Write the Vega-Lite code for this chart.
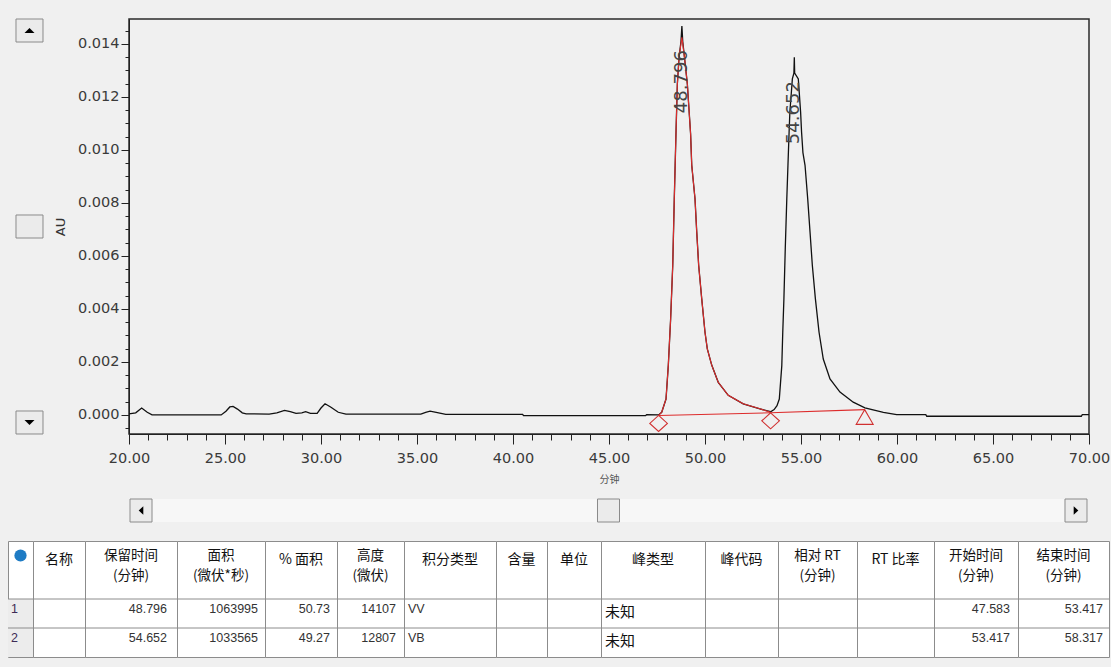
{
  "$schema": "https://vega.github.io/schema/vega-lite/v6.json",
  "background": "#f0f0f0",
  "padding": {"left": 7, "top": 17, "right": 1, "bottom": 9},
  "config": {
    "view": {"stroke": null},
    "axis": {"labelFont": "DejaVu Sans", "titleFont": "DejaVu Sans"},
    "text": {"font": "DejaVu Sans"}
  },
  "datasets": {
    "trace": [
      {"t": 20, "v": 0.00004}, {"t": 20.35, "v": 0.00008}, {"t": 20.66, "v": 0.00026}, {"t": 20.95, "v": 0.0001},
      {"t": 21.2, "v": 0}, {"t": 24.8, "v": 0}, {"t": 25.05, "v": 0.00014}, {"t": 25.25, "v": 0.0003},
      {"t": 25.42, "v": 0.00032}, {"t": 25.65, "v": 0.00022}, {"t": 25.9, "v": 0.00008}, {"t": 26.1, "v": 0.00004},
      {"t": 27.3, "v": 0.00003}, {"t": 27.7, "v": 0.00008}, {"t": 28.1, "v": 0.00017}, {"t": 28.4, "v": 0.00012},
      {"t": 28.7, "v": 0.00006}, {"t": 29, "v": 0.00008}, {"t": 29.2, "v": 0.00012}, {"t": 29.45, "v": 0.00006},
      {"t": 29.8, "v": 0.00006}, {"t": 30, "v": 0.00026}, {"t": 30.21, "v": 0.00042}, {"t": 30.5, "v": 0.0003},
      {"t": 30.9, "v": 0.0001}, {"t": 31.3, "v": 0.00003}, {"t": 35.2, "v": 0.00003}, {"t": 35.45, "v": 0.0001},
      {"t": 35.68, "v": 0.00014}, {"t": 36, "v": 0.0001}, {"t": 36.5, "v": 0.00002}, {"t": 40.5, "v": 0.00002},
      {"t": 40.55, "v": -0.00003}, {"t": 46.9, "v": -0.00003}, {"t": 46.96, "v": 0.00001}, {"t": 47.583, "v": 0},
      {"t": 47.745, "v": 0.0001}, {"t": 47.97, "v": 0.0006}, {"t": 48.09, "v": 0.00188}, {"t": 48.21, "v": 0.00362},
      {"t": 48.32, "v": 0.00565}, {"t": 48.4, "v": 0.00815}, {"t": 48.49, "v": 0.01067}, {"t": 48.56, "v": 0.01249},
      {"t": 48.65, "v": 0.0135}, {"t": 48.75, "v": 0.0141}, {"t": 48.796, "v": 0.01467}, {"t": 48.84, "v": 0.0141},
      {"t": 48.93, "v": 0.0135}, {"t": 49.08, "v": 0.01249}, {"t": 49.25, "v": 0.0106}, {"t": 49.31, "v": 0.00942},
      {"t": 49.48, "v": 0.00815}, {"t": 49.57, "v": 0.0069}, {"t": 49.67, "v": 0.00565}, {"t": 49.83, "v": 0.00438},
      {"t": 50, "v": 0.00312}, {"t": 50.12, "v": 0.00249}, {"t": 50.35, "v": 0.00188}, {"t": 50.69, "v": 0.00123},
      {"t": 51.21, "v": 0.00074}, {"t": 51.99, "v": 0.00042}, {"t": 52.86, "v": 0.00023}, {"t": 53.2, "v": 0.00016},
      {"t": 53.417, "v": 0.00012}, {"t": 53.6, "v": 0.0002}, {"t": 53.75, "v": 0.00035}, {"t": 53.87, "v": 0.0006},
      {"t": 54, "v": 0.00186}, {"t": 54.05, "v": 0.00312}, {"t": 54.11, "v": 0.00438}, {"t": 54.18, "v": 0.00626},
      {"t": 54.26, "v": 0.00815}, {"t": 54.32, "v": 0.00941}, {"t": 54.38, "v": 0.01067}, {"t": 54.42, "v": 0.01142},
      {"t": 54.55, "v": 0.01268}, {"t": 54.63, "v": 0.0129}, {"t": 54.652, "v": 0.0135}, {"t": 54.67, "v": 0.0129},
      {"t": 54.86, "v": 0.01268}, {"t": 54.98, "v": 0.01142}, {"t": 55.03, "v": 0.01067}, {"t": 55.1, "v": 0.0099},
      {"t": 55.21, "v": 0.00942}, {"t": 55.35, "v": 0.00815}, {"t": 55.47, "v": 0.0069}, {"t": 55.59, "v": 0.00565},
      {"t": 55.75, "v": 0.00438}, {"t": 55.94, "v": 0.00312}, {"t": 56.16, "v": 0.00211}, {"t": 56.51, "v": 0.00136},
      {"t": 57.03, "v": 0.00086}, {"t": 57.72, "v": 0.00048}, {"t": 58.33, "v": 0.00027}, {"t": 59.29, "v": 0.0001},
      {"t": 59.98, "v": 0.00001}, {"t": 61.5, "v": 0.00001}, {"t": 61.55, "v": -0.00005}, {"t": 69.6, "v": -0.00005},
      {"t": 69.65, "v": 0.00001}, {"t": 70, "v": 0.00001}
    ],
    "peak1": [
      {"t": 47.583, "v": -0.00002}, {"t": 47.745, "v": 0.0001}, {"t": 47.97, "v": 0.0006}, {"t": 48.09, "v": 0.00188},
      {"t": 48.21, "v": 0.00362}, {"t": 48.32, "v": 0.00565}, {"t": 48.4, "v": 0.00815}, {"t": 48.49, "v": 0.01067},
      {"t": 48.56, "v": 0.01249}, {"t": 48.65, "v": 0.0135}, {"t": 48.796, "v": 0.01425}, {"t": 48.93, "v": 0.0135},
      {"t": 49.08, "v": 0.01249}, {"t": 49.25, "v": 0.0106}, {"t": 49.31, "v": 0.00942}, {"t": 49.48, "v": 0.00815},
      {"t": 49.57, "v": 0.0069}, {"t": 49.67, "v": 0.00565}, {"t": 49.83, "v": 0.00438}, {"t": 50, "v": 0.00312},
      {"t": 50.12, "v": 0.00249}, {"t": 50.35, "v": 0.00188}, {"t": 50.69, "v": 0.00123}, {"t": 51.21, "v": 0.00074},
      {"t": 51.99, "v": 0.00042}, {"t": 52.86, "v": 0.00023}, {"t": 53.2, "v": 0.00015}, {"t": 53.417, "v": 0.0001}
    ],
    "baseline": [
      {"t": 47.583, "v": -0.00002, "peak": 1}, {"t": 53.417, "v": 0.00008, "peak": 1},
      {"t": 53.417, "v": 0.00008, "peak": 2}, {"t": 58.317, "v": 0.0002, "peak": 2}
    ],
    "limits": [
      {"t": 47.583, "v": -0.00002, "kind": "V"},
      {"t": 53.417, "v": 0.00008, "kind": "V"},
      {"t": 58.317, "v": 0.0002, "kind": "B"}
    ],
    "apex": [
      {"t": 48.796, "v": 0.01467},
      {"t": 54.652, "v": 0.0135}
    ],
    "vbar": [{"part": "up"}, {"part": "thumb"}, {"part": "down"}],
    "hbar": [{"part": "left"}, {"part": "thumb"}, {"part": "right"}],
    "cells": [
      {"c": 0, "s": "h", "text": ""}, {"c": 0, "s": "r1", "text": "1"}, {"c": 0, "s": "r2", "text": "2"},
      {"c": 1, "s": "h", "text": "名称"}, {"c": 1, "s": "r1", "text": ""}, {"c": 1, "s": "r2", "text": ""},
      {"c": 2, "s": "h", "text": "保留时间"}, {"c": 2, "s": "h2", "text": "(分钟)"}, {"c": 2, "s": "r1", "text": "48.796"}, {"c": 2, "s": "r2", "text": "54.652"},
      {"c": 3, "s": "h", "text": "面积"}, {"c": 3, "s": "h2", "text": "(微伏*秒)"}, {"c": 3, "s": "r1", "text": "1063995"}, {"c": 3, "s": "r2", "text": "1033565"},
      {"c": 4, "s": "h", "text": "% 面积"}, {"c": 4, "s": "r1", "text": "50.73"}, {"c": 4, "s": "r2", "text": "49.27"},
      {"c": 5, "s": "h", "text": "高度"}, {"c": 5, "s": "h2", "text": "(微伏)"}, {"c": 5, "s": "r1", "text": "14107"}, {"c": 5, "s": "r2", "text": "12807"},
      {"c": 6, "s": "h", "text": "积分类型"}, {"c": 6, "s": "r1", "text": "VV"}, {"c": 6, "s": "r2", "text": "VB"},
      {"c": 7, "s": "h", "text": "含量"}, {"c": 7, "s": "r1", "text": ""}, {"c": 7, "s": "r2", "text": ""},
      {"c": 8, "s": "h", "text": "单位"}, {"c": 8, "s": "r1", "text": ""}, {"c": 8, "s": "r2", "text": ""},
      {"c": 9, "s": "h", "text": "峰类型"}, {"c": 9, "s": "r1", "text": "未知"}, {"c": 9, "s": "r2", "text": "未知"},
      {"c": 10, "s": "h", "text": "峰代码"}, {"c": 10, "s": "r1", "text": ""}, {"c": 10, "s": "r2", "text": ""},
      {"c": 11, "s": "h", "text": "相对 RT"}, {"c": 11, "s": "h2", "text": "(分钟)"}, {"c": 11, "s": "r1", "text": ""}, {"c": 11, "s": "r2", "text": ""},
      {"c": 12, "s": "h", "text": "RT 比率"}, {"c": 12, "s": "r1", "text": ""}, {"c": 12, "s": "r2", "text": ""},
      {"c": 13, "s": "h", "text": "开始时间"}, {"c": 13, "s": "h2", "text": "(分钟)"}, {"c": 13, "s": "r1", "text": "47.583"}, {"c": 13, "s": "r2", "text": "53.417"},
      {"c": 14, "s": "h", "text": "结束时间"}, {"c": 14, "s": "h2", "text": "(分钟)"}, {"c": 14, "s": "r1", "text": "53.417"}, {"c": 14, "s": "r2", "text": "58.317"}
    ]
  },
  "spacing": 16,
  "vconcat": [
    {
      "spacing": 8,
      "hconcat": [
        {
          "width": 35,
          "height": 415,
          "data": {"name": "vbar"},
          "encoding": {"y": {"field": "part", "type": "nominal", "axis": null, "scale": {"type": "point", "domain": ["up", "thumb", "down"], "padding": 0.0587}}},
          "layer": [
            {"mark": {"type": "point", "shape": "M-0.704,-0.852H1.296V0.852H-0.704Z", "size": 729, "filled": true, "fill": "#ebebeb", "stroke": "#8a8a8a", "strokeWidth": 1, "opacity": 1}},
            {"transform": [{"filter": "datum.part === 'up'"}], "mark": {"type": "point", "shape": "M0.296,-0.19L0.666,0.19L-0.074,0.19Z", "size": 729, "filled": true, "color": "#000000", "opacity": 1}},
            {"transform": [{"filter": "datum.part === 'down'"}], "mark": {"type": "point", "shape": "M-0.074,-0.19L0.666,-0.19L0.296,0.19Z", "size": 729, "filled": true, "color": "#000000", "opacity": 1}}
          ]
        },
        {
          "spacing": 65,
          "bounds": "flush",
          "vconcat": [
            {
              "width": 960,
              "height": 415,
              "view": {"stroke": "#2a2a2a", "strokeWidth": 1.5},
              "encoding": {
                "x": {
                  "field": "t", "type": "quantitative",
                  "scale": {"domain": [20, 70], "nice": false, "zero": false},
                  "axis": {
                    "title": "分钟", "titleFont": "Noto Sans CJK SC", "titleFontSize": 10, "titleFontWeight": "normal", "titleColor": "#555555", "titlePadding": 10,
                    "values": [20, 21, 22, 23, 24, 25, 26, 27, 28, 29, 30, 31, 32, 33, 34, 35, 36, 37, 38, 39, 40, 41, 42, 43, 44, 45, 46, 47, 48, 49, 50, 51, 52, 53, 54, 55, 56, 57, 58, 59, 60, 61, 62, 63, 64, 65, 66, 67, 68, 69, 70],
                    "labelExpr": "datum.value % 5 === 0 ? format(datum.value, '.2f') : ''",
                    "tickSize": {"condition": {"test": "datum.value % 5 === 0", "value": 10}, "value": 6},
                    "labelPadding": 7, "labelFontSize": 14.5, "labelColor": "#3a3a3a", "labelOverlap": false, "labelFlush": false, "labelBound": false,
                    "tickColor": "#222222", "domainColor": "#222222", "grid": false, "minExtent": 30, "maxExtent": 30
                  }
                },
                "y": {
                  "field": "v", "type": "quantitative",
                  "scale": {"domain": [-0.00072, 0.01494], "nice": false, "zero": false},
                  "axis": {
                    "title": "AU", "titleFontSize": 13, "titleFontWeight": "normal", "titleColor": "#333333", "titlePadding": 10,
                    "values": [-0.0005, 0, 0.0005, 0.001, 0.0015, 0.002, 0.0025, 0.003, 0.0035, 0.004, 0.0045, 0.005, 0.0055, 0.006, 0.0065, 0.007, 0.0075, 0.008, 0.0085, 0.009, 0.0095, 0.01, 0.0105, 0.011, 0.0115, 0.012, 0.0125, 0.013, 0.0135, 0.014, 0.0145],
                    "labelExpr": "abs(datum.value * 500 - round(datum.value * 500)) < 0.01 ? format(datum.value, '.3f') : ''",
                    "tickSize": {"condition": {"test": "abs(datum.value * 500 - round(datum.value * 500)) < 0.01", "value": 8}, "value": 4},
                    "labelPadding": 2, "labelFontSize": 14.5, "labelColor": "#3a3a3a", "labelOverlap": false,
                    "tickColor": "#222222", "domainColor": "#222222", "grid": false, "minExtent": 52, "maxExtent": 52
                  }
                }
              },
              "layer": [
                {"data": {"name": "trace"}, "mark": {"type": "line", "color": "#111111", "strokeWidth": 1.3}},
                {"data": {"name": "baseline"}, "mark": {"type": "line", "color": "#dd2c2c", "strokeWidth": 1.1}, "encoding": {"detail": {"field": "peak"}}},
                {"data": {"name": "peak1"}, "mark": {"type": "line", "color": "#dd2c2c", "strokeWidth": 1.1}},
                {"data": {"name": "limits"}, "transform": [{"filter": "datum.kind === 'V'"}], "mark": {"type": "point", "shape": "M0,0L1.1,1L0,2L-1.1,1Z", "size": 256, "filled": false, "stroke": "#d03030", "strokeWidth": 1.1, "opacity": 1}},
                {"data": {"name": "limits"}, "transform": [{"filter": "datum.kind === 'B'"}], "mark": {"type": "point", "shape": "M0,0L1.06,1.84L-1.06,1.84Z", "size": 256, "filled": false, "stroke": "#d03030", "strokeWidth": 1.1, "opacity": 1}},
                {"data": {"name": "apex"}, "mark": {"type": "text", "angle": 270, "align": "right", "baseline": "middle", "dx": -24, "fontSize": 18, "color": "#444444"}, "encoding": {"text": {"field": "t", "type": "quantitative", "format": ".3f"}}}
              ]
            },
            {
              "width": 959,
              "height": 23,
              "view": {"fill": "#f7f7f7"},
              "data": {"name": "hbar"},
              "encoding": {"x": {"field": "part", "type": "nominal", "axis": null, "scale": {"type": "point", "domain": ["left", "thumb", "right"], "padding": 0.02567}}},
              "layer": [
                {"mark": {"type": "point", "shape": "M-0.957,-1H0.957V1H-0.957Z", "size": 529, "filled": true, "fill": "#ebebeb", "stroke": "#8a8a8a", "strokeWidth": 1, "opacity": 1}},
                {"transform": [{"filter": "datum.part === 'left'"}], "mark": {"type": "point", "shape": "M-0.2,0L0.2,-0.38L0.2,0.38Z", "size": 529, "filled": true, "color": "#000000", "opacity": 1}},
                {"transform": [{"filter": "datum.part === 'right'"}], "mark": {"type": "point", "shape": "M0.2,0L-0.2,-0.38L-0.2,0.38Z", "size": 529, "filled": true, "color": "#000000", "opacity": 1}}
              ]
            }
          ]
        }
      ]
    },
    {
      "spacing": 0,
      "bounds": "flush",
      "resolve": {"scale": {"x": "independent", "y": "independent"}},
      "hconcat": [
        {
          "width": 25, "height": 116, "view": {"fill": "#ffffff", "stroke": "#8c8c8c"},
          "data": {"name": "cells"}, "transform": [{"filter": "datum.c === 0"}],
          "layer": [
            {"transform": [{"filter": "datum.s === 'r1' || datum.s === 'r2'"}], "mark": {"type": "rect", "color": "#ececec"}, "encoding": {"y": {"field": "s", "type": "ordinal", "axis": null, "scale": {"type": "band", "domain": ["h", "h2", "r1", "r2"], "paddingInner": 0, "paddingOuter": 0}}}},
            {"transform": [{"filter": "datum.s === 'r1' || datum.s === 'r2'"}], "mark": {"type": "rule", "color": "#8c8c8c"}, "encoding": {"y": {"field": "s", "type": "ordinal", "axis": null, "bandPosition": 0, "scale": {"type": "band", "domain": ["h", "h2", "r1", "r2"], "paddingInner": 0, "paddingOuter": 0}}}},
            {"transform": [{"filter": "datum.s === 'h'"}], "mark": {"type": "point", "shape": "circle", "filled": true, "size": 150, "color": "#1e7bc4", "opacity": 1}, "encoding": {"y": {"field": "s", "type": "ordinal", "axis": null, "bandPosition": 0.5, "scale": {"type": "band", "domain": ["h", "h2", "r1", "r2"], "paddingInner": 0, "paddingOuter": 0}}}},
            {"transform": [{"filter": "datum.s === 'r1' || datum.s === 'r2'"}], "mark": {"type": "text", "align": "left", "baseline": "middle", "dx": 3, "font": "Liberation Sans", "fontSize": 12.5, "color": "#3d2b56"}, "encoding": {"x": {"field": "c", "type": "ordinal", "axis": null, "bandPosition": 0, "scale": {"type": "band", "paddingInner": 0, "paddingOuter": 0}}, "y": {"field": "s", "type": "ordinal", "axis": null, "bandPosition": 0.36, "scale": {"type": "band", "domain": ["h", "h2", "r1", "r2"], "paddingInner": 0, "paddingOuter": 0}}, "text": {"field": "text"}}}
          ]
        },
        {
          "width": 52, "height": 116, "view": {"fill": "#ffffff", "stroke": "#8c8c8c"},
          "data": {"name": "cells"}, "transform": [{"filter": "datum.c === 1"}],
          "layer": [
            {"transform": [{"filter": "datum.s === 'r1' || datum.s === 'r2'"}], "mark": {"type": "rule", "color": "#8c8c8c"}, "encoding": {"y": {"field": "s", "type": "ordinal", "axis": null, "bandPosition": 0, "scale": {"type": "band", "domain": ["h", "h2", "r1", "r2"], "paddingInner": 0, "paddingOuter": 0}}}},
            {"transform": [{"filter": "datum.s === 'h'"}], "mark": {"type": "text", "font": "Noto Sans CJK SC", "fontSize": 14, "baseline": "middle", "color": "#111111"}, "encoding": {"x": {"field": "c", "type": "ordinal", "axis": null, "scale": {"type": "band", "paddingInner": 0, "paddingOuter": 0}}, "y": {"field": "s", "type": "ordinal", "axis": null, "bandPosition": 0.64, "scale": {"type": "band", "domain": ["h", "h2", "r1", "r2"], "paddingInner": 0, "paddingOuter": 0}}, "text": {"field": "text"}}}
          ]
        },
        {
          "width": 92, "height": 116, "view": {"fill": "#ffffff", "stroke": "#8c8c8c"},
          "data": {"name": "cells"}, "transform": [{"filter": "datum.c === 2"}],
          "layer": [
            {"transform": [{"filter": "datum.s === 'r1' || datum.s === 'r2'"}], "mark": {"type": "rule", "color": "#8c8c8c"}, "encoding": {"y": {"field": "s", "type": "ordinal", "axis": null, "bandPosition": 0, "scale": {"type": "band", "domain": ["h", "h2", "r1", "r2"], "paddingInner": 0, "paddingOuter": 0}}}},
            {"transform": [{"filter": "datum.s === 'h'"}], "mark": {"type": "text", "font": "Noto Sans CJK SC", "fontSize": 13.5, "baseline": "middle", "color": "#111111"}, "encoding": {"x": {"field": "c", "type": "ordinal", "axis": null, "scale": {"type": "band", "paddingInner": 0, "paddingOuter": 0}}, "y": {"field": "s", "type": "ordinal", "axis": null, "bandPosition": 0.5, "scale": {"type": "band", "domain": ["h", "h2", "r1", "r2"], "paddingInner": 0, "paddingOuter": 0}}, "text": {"field": "text"}}},
            {"transform": [{"filter": "datum.s === 'h2'"}], "mark": {"type": "text", "font": "Noto Sans CJK SC", "fontSize": 13.5, "baseline": "middle", "color": "#111111"}, "encoding": {"x": {"field": "c", "type": "ordinal", "axis": null, "scale": {"type": "band", "paddingInner": 0, "paddingOuter": 0}}, "y": {"field": "s", "type": "ordinal", "axis": null, "bandPosition": 0.2, "scale": {"type": "band", "domain": ["h", "h2", "r1", "r2"], "paddingInner": 0, "paddingOuter": 0}}, "text": {"field": "text"}}},
            {"transform": [{"filter": "datum.s === 'r1' || datum.s === 'r2'"}], "mark": {"type": "text", "align": "right", "baseline": "middle", "dx": -10, "font": "Liberation Sans", "fontSize": 12.5, "color": "#333333"}, "encoding": {"x": {"field": "c", "type": "ordinal", "axis": null, "bandPosition": 1, "scale": {"type": "band", "paddingInner": 0, "paddingOuter": 0}}, "y": {"field": "s", "type": "ordinal", "axis": null, "bandPosition": 0.36, "scale": {"type": "band", "domain": ["h", "h2", "r1", "r2"], "paddingInner": 0, "paddingOuter": 0}}, "text": {"field": "text"}}}
          ]
        },
        {
          "width": 88, "height": 116, "view": {"fill": "#ffffff", "stroke": "#8c8c8c"},
          "data": {"name": "cells"}, "transform": [{"filter": "datum.c === 3"}],
          "layer": [
            {"transform": [{"filter": "datum.s === 'r1' || datum.s === 'r2'"}], "mark": {"type": "rule", "color": "#8c8c8c"}, "encoding": {"y": {"field": "s", "type": "ordinal", "axis": null, "bandPosition": 0, "scale": {"type": "band", "domain": ["h", "h2", "r1", "r2"], "paddingInner": 0, "paddingOuter": 0}}}},
            {"transform": [{"filter": "datum.s === 'h'"}], "mark": {"type": "text", "font": "Noto Sans CJK SC", "fontSize": 13.5, "baseline": "middle", "color": "#111111"}, "encoding": {"x": {"field": "c", "type": "ordinal", "axis": null, "scale": {"type": "band", "paddingInner": 0, "paddingOuter": 0}}, "y": {"field": "s", "type": "ordinal", "axis": null, "bandPosition": 0.5, "scale": {"type": "band", "domain": ["h", "h2", "r1", "r2"], "paddingInner": 0, "paddingOuter": 0}}, "text": {"field": "text"}}},
            {"transform": [{"filter": "datum.s === 'h2'"}], "mark": {"type": "text", "font": "Noto Sans CJK SC", "fontSize": 13.5, "baseline": "middle", "color": "#111111"}, "encoding": {"x": {"field": "c", "type": "ordinal", "axis": null, "scale": {"type": "band", "paddingInner": 0, "paddingOuter": 0}}, "y": {"field": "s", "type": "ordinal", "axis": null, "bandPosition": 0.2, "scale": {"type": "band", "domain": ["h", "h2", "r1", "r2"], "paddingInner": 0, "paddingOuter": 0}}, "text": {"field": "text"}}},
            {"transform": [{"filter": "datum.s === 'r1' || datum.s === 'r2'"}], "mark": {"type": "text", "align": "right", "baseline": "middle", "dx": -7, "font": "Liberation Sans", "fontSize": 12.5, "color": "#333333"}, "encoding": {"x": {"field": "c", "type": "ordinal", "axis": null, "bandPosition": 1, "scale": {"type": "band", "paddingInner": 0, "paddingOuter": 0}}, "y": {"field": "s", "type": "ordinal", "axis": null, "bandPosition": 0.36, "scale": {"type": "band", "domain": ["h", "h2", "r1", "r2"], "paddingInner": 0, "paddingOuter": 0}}, "text": {"field": "text"}}}
          ]
        },
        {
          "width": 72, "height": 116, "view": {"fill": "#ffffff", "stroke": "#8c8c8c"},
          "data": {"name": "cells"}, "transform": [{"filter": "datum.c === 4"}],
          "layer": [
            {"transform": [{"filter": "datum.s === 'r1' || datum.s === 'r2'"}], "mark": {"type": "rule", "color": "#8c8c8c"}, "encoding": {"y": {"field": "s", "type": "ordinal", "axis": null, "bandPosition": 0, "scale": {"type": "band", "domain": ["h", "h2", "r1", "r2"], "paddingInner": 0, "paddingOuter": 0}}}},
            {"transform": [{"filter": "datum.s === 'h'"}], "mark": {"type": "text", "font": "Noto Sans CJK SC", "fontSize": 14, "baseline": "middle", "color": "#111111"}, "encoding": {"x": {"field": "c", "type": "ordinal", "axis": null, "scale": {"type": "band", "paddingInner": 0, "paddingOuter": 0}}, "y": {"field": "s", "type": "ordinal", "axis": null, "bandPosition": 0.64, "scale": {"type": "band", "domain": ["h", "h2", "r1", "r2"], "paddingInner": 0, "paddingOuter": 0}}, "text": {"field": "text"}}},
            {"transform": [{"filter": "datum.s === 'r1' || datum.s === 'r2'"}], "mark": {"type": "text", "align": "right", "baseline": "middle", "dx": -7, "font": "Liberation Sans", "fontSize": 12.5, "color": "#333333"}, "encoding": {"x": {"field": "c", "type": "ordinal", "axis": null, "bandPosition": 1, "scale": {"type": "band", "paddingInner": 0, "paddingOuter": 0}}, "y": {"field": "s", "type": "ordinal", "axis": null, "bandPosition": 0.36, "scale": {"type": "band", "domain": ["h", "h2", "r1", "r2"], "paddingInner": 0, "paddingOuter": 0}}, "text": {"field": "text"}}}
          ]
        },
        {
          "width": 67, "height": 116, "view": {"fill": "#ffffff", "stroke": "#8c8c8c"},
          "data": {"name": "cells"}, "transform": [{"filter": "datum.c === 5"}],
          "layer": [
            {"transform": [{"filter": "datum.s === 'r1' || datum.s === 'r2'"}], "mark": {"type": "rule", "color": "#8c8c8c"}, "encoding": {"y": {"field": "s", "type": "ordinal", "axis": null, "bandPosition": 0, "scale": {"type": "band", "domain": ["h", "h2", "r1", "r2"], "paddingInner": 0, "paddingOuter": 0}}}},
            {"transform": [{"filter": "datum.s === 'h'"}], "mark": {"type": "text", "font": "Noto Sans CJK SC", "fontSize": 13.5, "baseline": "middle", "color": "#111111"}, "encoding": {"x": {"field": "c", "type": "ordinal", "axis": null, "scale": {"type": "band", "paddingInner": 0, "paddingOuter": 0}}, "y": {"field": "s", "type": "ordinal", "axis": null, "bandPosition": 0.5, "scale": {"type": "band", "domain": ["h", "h2", "r1", "r2"], "paddingInner": 0, "paddingOuter": 0}}, "text": {"field": "text"}}},
            {"transform": [{"filter": "datum.s === 'h2'"}], "mark": {"type": "text", "font": "Noto Sans CJK SC", "fontSize": 13.5, "baseline": "middle", "color": "#111111"}, "encoding": {"x": {"field": "c", "type": "ordinal", "axis": null, "scale": {"type": "band", "paddingInner": 0, "paddingOuter": 0}}, "y": {"field": "s", "type": "ordinal", "axis": null, "bandPosition": 0.2, "scale": {"type": "band", "domain": ["h", "h2", "r1", "r2"], "paddingInner": 0, "paddingOuter": 0}}, "text": {"field": "text"}}},
            {"transform": [{"filter": "datum.s === 'r1' || datum.s === 'r2'"}], "mark": {"type": "text", "align": "right", "baseline": "middle", "dx": -8, "font": "Liberation Sans", "fontSize": 12.5, "color": "#333333"}, "encoding": {"x": {"field": "c", "type": "ordinal", "axis": null, "bandPosition": 1, "scale": {"type": "band", "paddingInner": 0, "paddingOuter": 0}}, "y": {"field": "s", "type": "ordinal", "axis": null, "bandPosition": 0.36, "scale": {"type": "band", "domain": ["h", "h2", "r1", "r2"], "paddingInner": 0, "paddingOuter": 0}}, "text": {"field": "text"}}}
          ]
        },
        {
          "width": 92, "height": 116, "view": {"fill": "#ffffff", "stroke": "#8c8c8c"},
          "data": {"name": "cells"}, "transform": [{"filter": "datum.c === 6"}],
          "layer": [
            {"transform": [{"filter": "datum.s === 'r1' || datum.s === 'r2'"}], "mark": {"type": "rule", "color": "#8c8c8c"}, "encoding": {"y": {"field": "s", "type": "ordinal", "axis": null, "bandPosition": 0, "scale": {"type": "band", "domain": ["h", "h2", "r1", "r2"], "paddingInner": 0, "paddingOuter": 0}}}},
            {"transform": [{"filter": "datum.s === 'h'"}], "mark": {"type": "text", "font": "Noto Sans CJK SC", "fontSize": 14, "baseline": "middle", "color": "#111111"}, "encoding": {"x": {"field": "c", "type": "ordinal", "axis": null, "scale": {"type": "band", "paddingInner": 0, "paddingOuter": 0}}, "y": {"field": "s", "type": "ordinal", "axis": null, "bandPosition": 0.64, "scale": {"type": "band", "domain": ["h", "h2", "r1", "r2"], "paddingInner": 0, "paddingOuter": 0}}, "text": {"field": "text"}}},
            {"transform": [{"filter": "datum.s === 'r1' || datum.s === 'r2'"}], "mark": {"type": "text", "align": "left", "baseline": "middle", "dx": 4, "font": "Liberation Sans", "fontSize": 12.5, "color": "#333333"}, "encoding": {"x": {"field": "c", "type": "ordinal", "axis": null, "bandPosition": 0, "scale": {"type": "band", "paddingInner": 0, "paddingOuter": 0}}, "y": {"field": "s", "type": "ordinal", "axis": null, "bandPosition": 0.36, "scale": {"type": "band", "domain": ["h", "h2", "r1", "r2"], "paddingInner": 0, "paddingOuter": 0}}, "text": {"field": "text"}}}
          ]
        },
        {
          "width": 51, "height": 116, "view": {"fill": "#ffffff", "stroke": "#8c8c8c"},
          "data": {"name": "cells"}, "transform": [{"filter": "datum.c === 7"}],
          "layer": [
            {"transform": [{"filter": "datum.s === 'r1' || datum.s === 'r2'"}], "mark": {"type": "rule", "color": "#8c8c8c"}, "encoding": {"y": {"field": "s", "type": "ordinal", "axis": null, "bandPosition": 0, "scale": {"type": "band", "domain": ["h", "h2", "r1", "r2"], "paddingInner": 0, "paddingOuter": 0}}}},
            {"transform": [{"filter": "datum.s === 'h'"}], "mark": {"type": "text", "font": "Noto Sans CJK SC", "fontSize": 14, "baseline": "middle", "color": "#111111"}, "encoding": {"x": {"field": "c", "type": "ordinal", "axis": null, "scale": {"type": "band", "paddingInner": 0, "paddingOuter": 0}}, "y": {"field": "s", "type": "ordinal", "axis": null, "bandPosition": 0.64, "scale": {"type": "band", "domain": ["h", "h2", "r1", "r2"], "paddingInner": 0, "paddingOuter": 0}}, "text": {"field": "text"}}}
          ]
        },
        {
          "width": 54, "height": 116, "view": {"fill": "#ffffff", "stroke": "#8c8c8c"},
          "data": {"name": "cells"}, "transform": [{"filter": "datum.c === 8"}],
          "layer": [
            {"transform": [{"filter": "datum.s === 'r1' || datum.s === 'r2'"}], "mark": {"type": "rule", "color": "#8c8c8c"}, "encoding": {"y": {"field": "s", "type": "ordinal", "axis": null, "bandPosition": 0, "scale": {"type": "band", "domain": ["h", "h2", "r1", "r2"], "paddingInner": 0, "paddingOuter": 0}}}},
            {"transform": [{"filter": "datum.s === 'h'"}], "mark": {"type": "text", "font": "Noto Sans CJK SC", "fontSize": 14, "baseline": "middle", "color": "#111111"}, "encoding": {"x": {"field": "c", "type": "ordinal", "axis": null, "scale": {"type": "band", "paddingInner": 0, "paddingOuter": 0}}, "y": {"field": "s", "type": "ordinal", "axis": null, "bandPosition": 0.64, "scale": {"type": "band", "domain": ["h", "h2", "r1", "r2"], "paddingInner": 0, "paddingOuter": 0}}, "text": {"field": "text"}}}
          ]
        },
        {
          "width": 104, "height": 116, "view": {"fill": "#ffffff", "stroke": "#8c8c8c"},
          "data": {"name": "cells"}, "transform": [{"filter": "datum.c === 9"}],
          "layer": [
            {"transform": [{"filter": "datum.s === 'r1' || datum.s === 'r2'"}], "mark": {"type": "rule", "color": "#8c8c8c"}, "encoding": {"y": {"field": "s", "type": "ordinal", "axis": null, "bandPosition": 0, "scale": {"type": "band", "domain": ["h", "h2", "r1", "r2"], "paddingInner": 0, "paddingOuter": 0}}}},
            {"transform": [{"filter": "datum.s === 'h'"}], "mark": {"type": "text", "font": "Noto Sans CJK SC", "fontSize": 14, "baseline": "middle", "color": "#111111"}, "encoding": {"x": {"field": "c", "type": "ordinal", "axis": null, "scale": {"type": "band", "paddingInner": 0, "paddingOuter": 0}}, "y": {"field": "s", "type": "ordinal", "axis": null, "bandPosition": 0.64, "scale": {"type": "band", "domain": ["h", "h2", "r1", "r2"], "paddingInner": 0, "paddingOuter": 0}}, "text": {"field": "text"}}},
            {"transform": [{"filter": "datum.s === 'r1' || datum.s === 'r2'"}], "mark": {"type": "text", "align": "left", "baseline": "middle", "dx": 4, "font": "Noto Sans CJK SC", "fontSize": 15, "color": "#111111"}, "encoding": {"x": {"field": "c", "type": "ordinal", "axis": null, "bandPosition": 0, "scale": {"type": "band", "paddingInner": 0, "paddingOuter": 0}}, "y": {"field": "s", "type": "ordinal", "axis": null, "bandPosition": 0.45, "scale": {"type": "band", "domain": ["h", "h2", "r1", "r2"], "paddingInner": 0, "paddingOuter": 0}}, "text": {"field": "text"}}}
          ]
        },
        {
          "width": 73, "height": 116, "view": {"fill": "#ffffff", "stroke": "#8c8c8c"},
          "data": {"name": "cells"}, "transform": [{"filter": "datum.c === 10"}],
          "layer": [
            {"transform": [{"filter": "datum.s === 'r1' || datum.s === 'r2'"}], "mark": {"type": "rule", "color": "#8c8c8c"}, "encoding": {"y": {"field": "s", "type": "ordinal", "axis": null, "bandPosition": 0, "scale": {"type": "band", "domain": ["h", "h2", "r1", "r2"], "paddingInner": 0, "paddingOuter": 0}}}},
            {"transform": [{"filter": "datum.s === 'h'"}], "mark": {"type": "text", "font": "Noto Sans CJK SC", "fontSize": 14, "baseline": "middle", "color": "#111111"}, "encoding": {"x": {"field": "c", "type": "ordinal", "axis": null, "scale": {"type": "band", "paddingInner": 0, "paddingOuter": 0}}, "y": {"field": "s", "type": "ordinal", "axis": null, "bandPosition": 0.64, "scale": {"type": "band", "domain": ["h", "h2", "r1", "r2"], "paddingInner": 0, "paddingOuter": 0}}, "text": {"field": "text"}}}
          ]
        },
        {
          "width": 79, "height": 116, "view": {"fill": "#ffffff", "stroke": "#8c8c8c"},
          "data": {"name": "cells"}, "transform": [{"filter": "datum.c === 11"}],
          "layer": [
            {"transform": [{"filter": "datum.s === 'r1' || datum.s === 'r2'"}], "mark": {"type": "rule", "color": "#8c8c8c"}, "encoding": {"y": {"field": "s", "type": "ordinal", "axis": null, "bandPosition": 0, "scale": {"type": "band", "domain": ["h", "h2", "r1", "r2"], "paddingInner": 0, "paddingOuter": 0}}}},
            {"transform": [{"filter": "datum.s === 'h'"}], "mark": {"type": "text", "font": "Noto Sans CJK SC", "fontSize": 13.5, "baseline": "middle", "color": "#111111"}, "encoding": {"x": {"field": "c", "type": "ordinal", "axis": null, "scale": {"type": "band", "paddingInner": 0, "paddingOuter": 0}}, "y": {"field": "s", "type": "ordinal", "axis": null, "bandPosition": 0.5, "scale": {"type": "band", "domain": ["h", "h2", "r1", "r2"], "paddingInner": 0, "paddingOuter": 0}}, "text": {"field": "text"}}},
            {"transform": [{"filter": "datum.s === 'h2'"}], "mark": {"type": "text", "font": "Noto Sans CJK SC", "fontSize": 13.5, "baseline": "middle", "color": "#111111"}, "encoding": {"x": {"field": "c", "type": "ordinal", "axis": null, "scale": {"type": "band", "paddingInner": 0, "paddingOuter": 0}}, "y": {"field": "s", "type": "ordinal", "axis": null, "bandPosition": 0.2, "scale": {"type": "band", "domain": ["h", "h2", "r1", "r2"], "paddingInner": 0, "paddingOuter": 0}}, "text": {"field": "text"}}}
          ]
        },
        {
          "width": 77, "height": 116, "view": {"fill": "#ffffff", "stroke": "#8c8c8c"},
          "data": {"name": "cells"}, "transform": [{"filter": "datum.c === 12"}],
          "layer": [
            {"transform": [{"filter": "datum.s === 'r1' || datum.s === 'r2'"}], "mark": {"type": "rule", "color": "#8c8c8c"}, "encoding": {"y": {"field": "s", "type": "ordinal", "axis": null, "bandPosition": 0, "scale": {"type": "band", "domain": ["h", "h2", "r1", "r2"], "paddingInner": 0, "paddingOuter": 0}}}},
            {"transform": [{"filter": "datum.s === 'h'"}], "mark": {"type": "text", "font": "Noto Sans CJK SC", "fontSize": 14, "baseline": "middle", "color": "#111111"}, "encoding": {"x": {"field": "c", "type": "ordinal", "axis": null, "scale": {"type": "band", "paddingInner": 0, "paddingOuter": 0}}, "y": {"field": "s", "type": "ordinal", "axis": null, "bandPosition": 0.64, "scale": {"type": "band", "domain": ["h", "h2", "r1", "r2"], "paddingInner": 0, "paddingOuter": 0}}, "text": {"field": "text"}}}
          ]
        },
        {
          "width": 84, "height": 116, "view": {"fill": "#ffffff", "stroke": "#8c8c8c"},
          "data": {"name": "cells"}, "transform": [{"filter": "datum.c === 13"}],
          "layer": [
            {"transform": [{"filter": "datum.s === 'r1' || datum.s === 'r2'"}], "mark": {"type": "rule", "color": "#8c8c8c"}, "encoding": {"y": {"field": "s", "type": "ordinal", "axis": null, "bandPosition": 0, "scale": {"type": "band", "domain": ["h", "h2", "r1", "r2"], "paddingInner": 0, "paddingOuter": 0}}}},
            {"transform": [{"filter": "datum.s === 'h'"}], "mark": {"type": "text", "font": "Noto Sans CJK SC", "fontSize": 13.5, "baseline": "middle", "color": "#111111"}, "encoding": {"x": {"field": "c", "type": "ordinal", "axis": null, "scale": {"type": "band", "paddingInner": 0, "paddingOuter": 0}}, "y": {"field": "s", "type": "ordinal", "axis": null, "bandPosition": 0.5, "scale": {"type": "band", "domain": ["h", "h2", "r1", "r2"], "paddingInner": 0, "paddingOuter": 0}}, "text": {"field": "text"}}},
            {"transform": [{"filter": "datum.s === 'h2'"}], "mark": {"type": "text", "font": "Noto Sans CJK SC", "fontSize": 13.5, "baseline": "middle", "color": "#111111"}, "encoding": {"x": {"field": "c", "type": "ordinal", "axis": null, "scale": {"type": "band", "paddingInner": 0, "paddingOuter": 0}}, "y": {"field": "s", "type": "ordinal", "axis": null, "bandPosition": 0.2, "scale": {"type": "band", "domain": ["h", "h2", "r1", "r2"], "paddingInner": 0, "paddingOuter": 0}}, "text": {"field": "text"}}},
            {"transform": [{"filter": "datum.s === 'r1' || datum.s === 'r2'"}], "mark": {"type": "text", "align": "right", "baseline": "middle", "dx": -8, "font": "Liberation Sans", "fontSize": 12.5, "color": "#333333"}, "encoding": {"x": {"field": "c", "type": "ordinal", "axis": null, "bandPosition": 1, "scale": {"type": "band", "paddingInner": 0, "paddingOuter": 0}}, "y": {"field": "s", "type": "ordinal", "axis": null, "bandPosition": 0.36, "scale": {"type": "band", "domain": ["h", "h2", "r1", "r2"], "paddingInner": 0, "paddingOuter": 0}}, "text": {"field": "text"}}}
          ]
        },
        {
          "width": 91, "height": 116, "view": {"fill": "#ffffff", "stroke": "#8c8c8c"},
          "data": {"name": "cells"}, "transform": [{"filter": "datum.c === 14"}],
          "layer": [
            {"transform": [{"filter": "datum.s === 'r1' || datum.s === 'r2'"}], "mark": {"type": "rule", "color": "#8c8c8c"}, "encoding": {"y": {"field": "s", "type": "ordinal", "axis": null, "bandPosition": 0, "scale": {"type": "band", "domain": ["h", "h2", "r1", "r2"], "paddingInner": 0, "paddingOuter": 0}}}},
            {"transform": [{"filter": "datum.s === 'h'"}], "mark": {"type": "text", "font": "Noto Sans CJK SC", "fontSize": 13.5, "baseline": "middle", "color": "#111111"}, "encoding": {"x": {"field": "c", "type": "ordinal", "axis": null, "scale": {"type": "band", "paddingInner": 0, "paddingOuter": 0}}, "y": {"field": "s", "type": "ordinal", "axis": null, "bandPosition": 0.5, "scale": {"type": "band", "domain": ["h", "h2", "r1", "r2"], "paddingInner": 0, "paddingOuter": 0}}, "text": {"field": "text"}}},
            {"transform": [{"filter": "datum.s === 'h2'"}], "mark": {"type": "text", "font": "Noto Sans CJK SC", "fontSize": 13.5, "baseline": "middle", "color": "#111111"}, "encoding": {"x": {"field": "c", "type": "ordinal", "axis": null, "scale": {"type": "band", "paddingInner": 0, "paddingOuter": 0}}, "y": {"field": "s", "type": "ordinal", "axis": null, "bandPosition": 0.2, "scale": {"type": "band", "domain": ["h", "h2", "r1", "r2"], "paddingInner": 0, "paddingOuter": 0}}, "text": {"field": "text"}}},
            {"transform": [{"filter": "datum.s === 'r1' || datum.s === 'r2'"}], "mark": {"type": "text", "align": "right", "baseline": "middle", "dx": -6, "font": "Liberation Sans", "fontSize": 12.5, "color": "#333333"}, "encoding": {"x": {"field": "c", "type": "ordinal", "axis": null, "bandPosition": 1, "scale": {"type": "band", "paddingInner": 0, "paddingOuter": 0}}, "y": {"field": "s", "type": "ordinal", "axis": null, "bandPosition": 0.36, "scale": {"type": "band", "domain": ["h", "h2", "r1", "r2"], "paddingInner": 0, "paddingOuter": 0}}, "text": {"field": "text"}}}
          ]
        }
      ]
    }
  ]
}
